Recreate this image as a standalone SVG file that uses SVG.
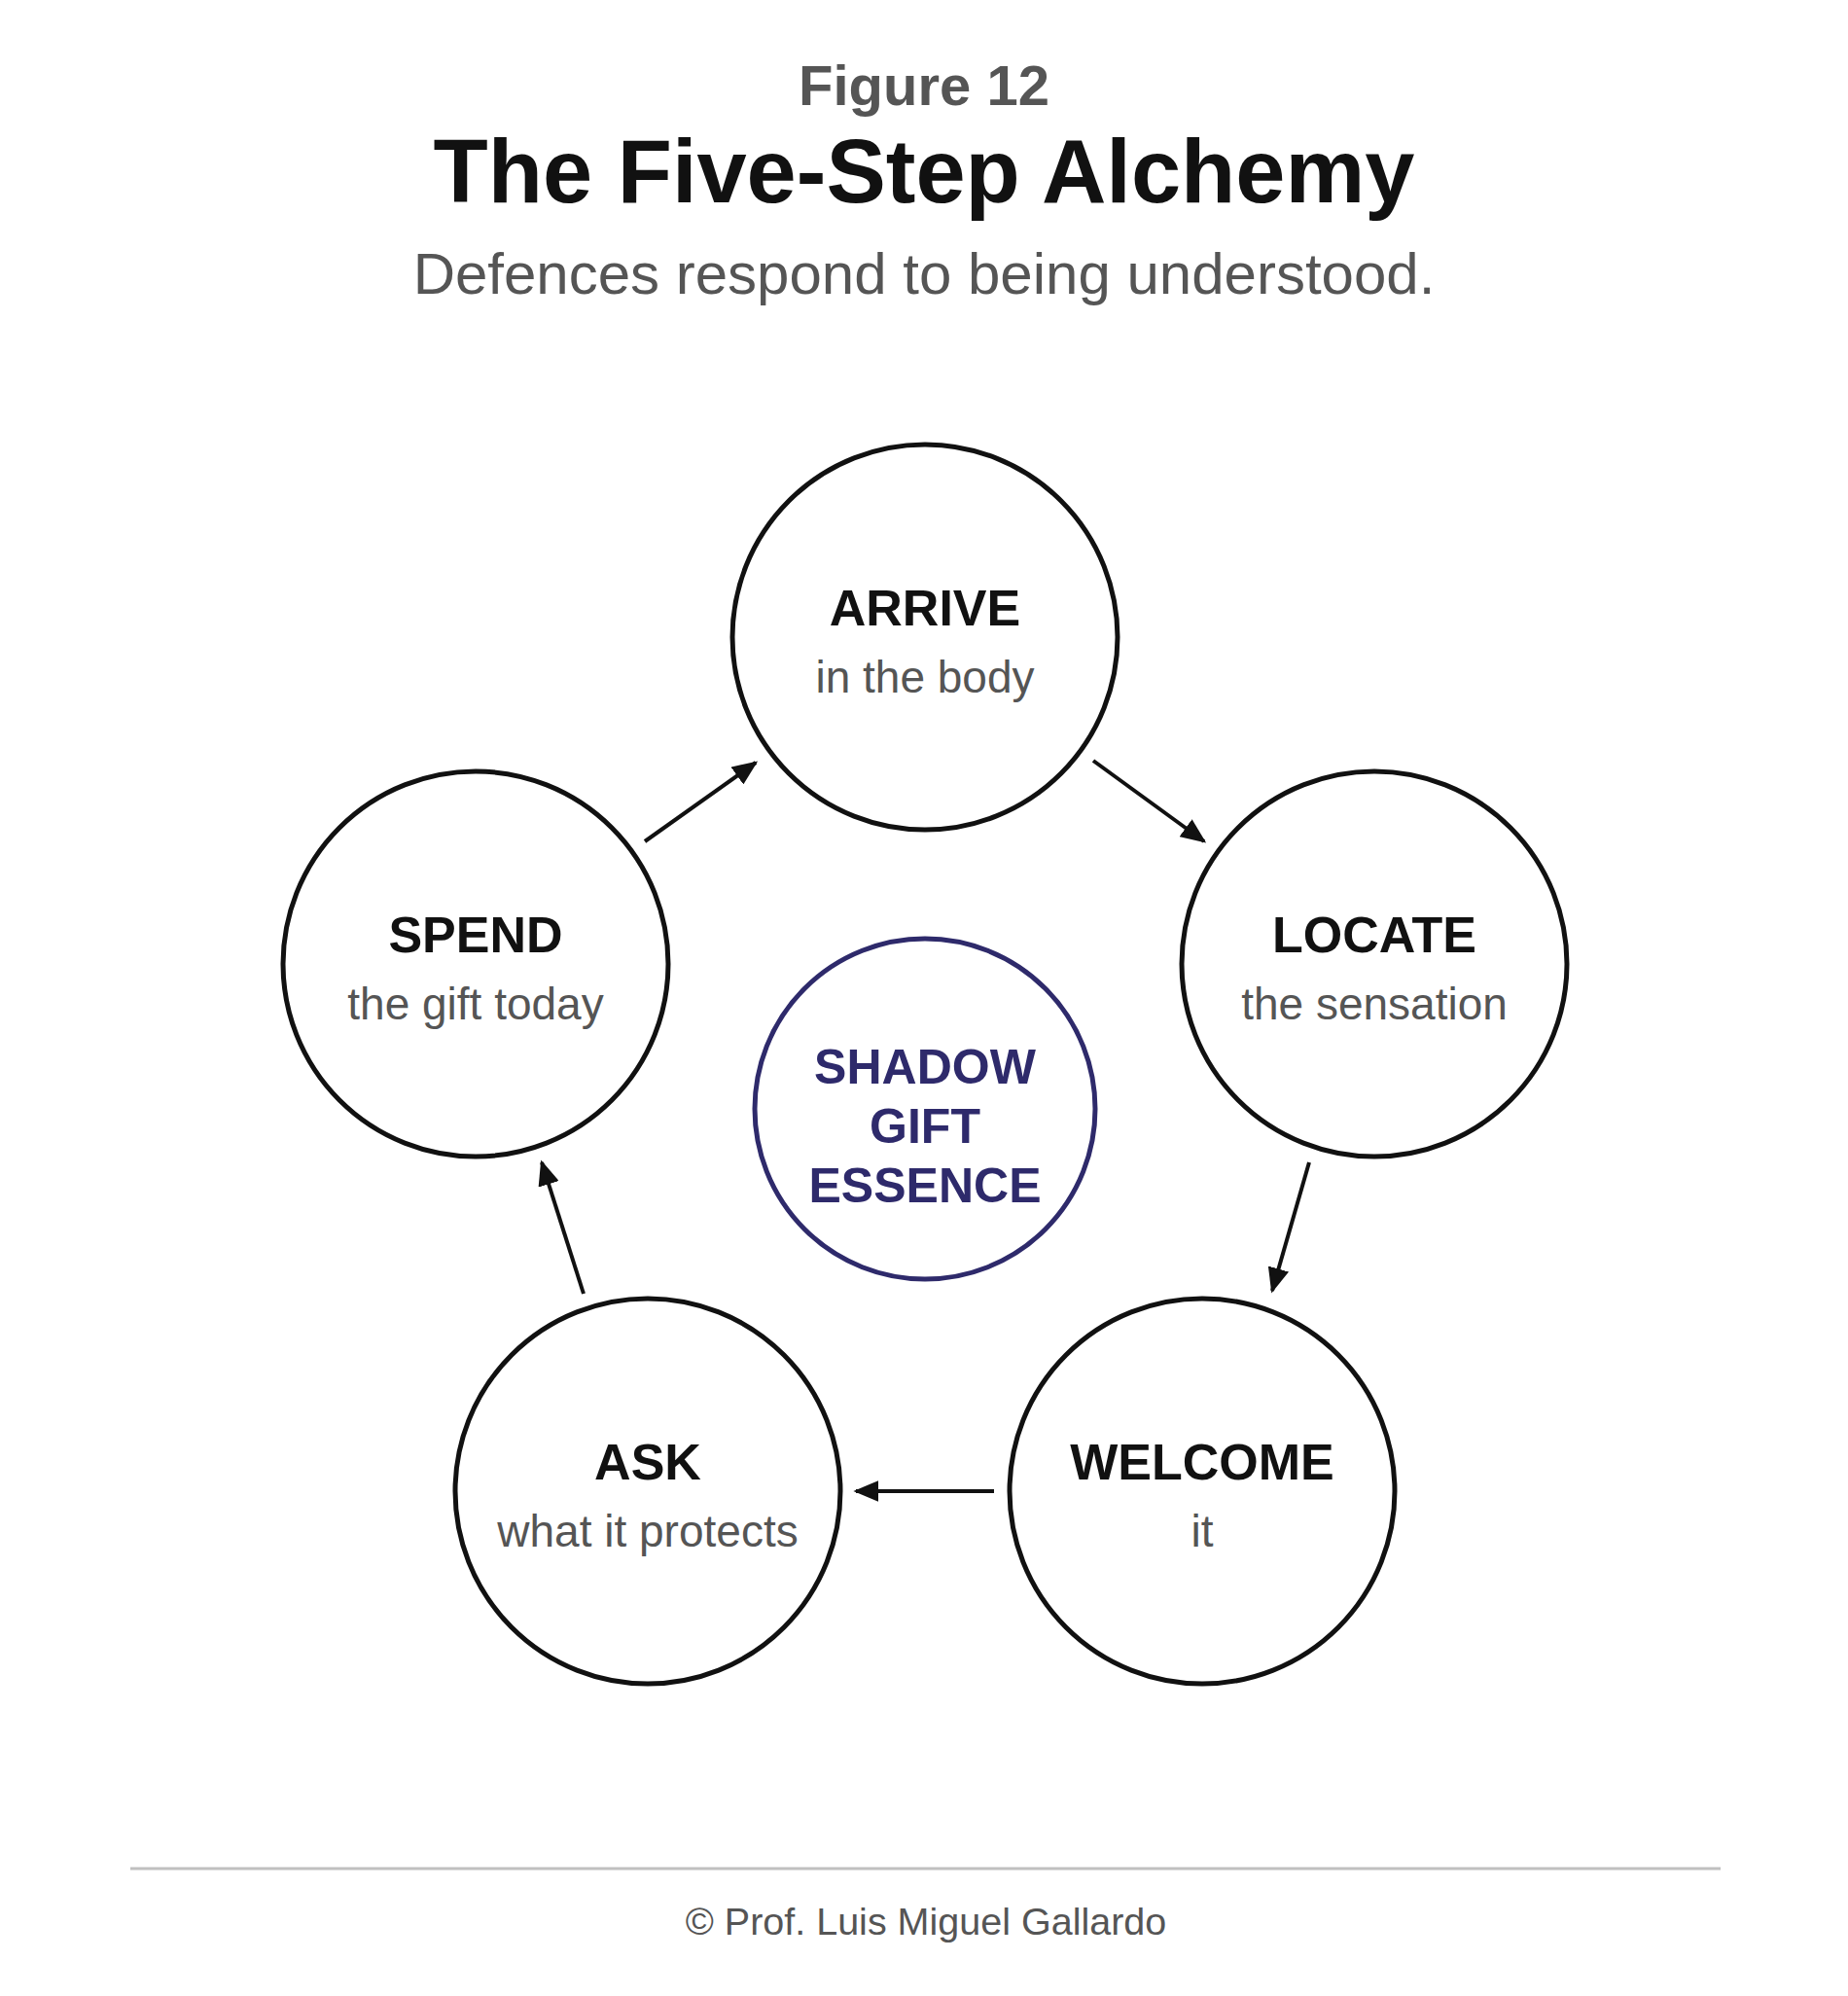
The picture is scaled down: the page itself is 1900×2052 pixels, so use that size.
<svg xmlns="http://www.w3.org/2000/svg" width="1900" height="2052" viewBox="0 0 1900 2052">
<style>
text{font-family:"Liberation Sans",Arial,sans-serif;text-anchor:middle}
.step{fill:#fff;stroke:#111;stroke-width:5}
.t{font-weight:bold;font-size:52px;fill:#111}
.s{font-size:46px;fill:#555}
.c{font-weight:bold;font-size:50px;fill:#2e2a6b}
.a{stroke:#111;stroke-width:4;fill:none;marker-end:url(#ah)}
</style>
<defs><marker id="ah" viewBox="0 0 10 10" refX="9" refY="5" markerWidth="26" markerHeight="22" markerUnits="userSpaceOnUse" orient="auto" preserveAspectRatio="none"><path d="M0,0L10,5L0,10z" fill="#111"/></marker></defs>
<rect width="1900" height="2052" fill="#fff"/>
<text x="950" y="108" font-size="58" font-weight="bold" fill="#555">Figure 12</text>
<text x="950" y="208" font-size="92" font-weight="bold" fill="#111">The Five-Step Alchemy</text>
<text x="950" y="302" font-size="60" fill="#555">Defences respond to being understood.</text>
<g id="arrive"><circle class="step" cx="951" cy="655" r="198"/><text class="t" x="951" y="643">ARRIVE</text><text class="s" x="951" y="712">in the body</text></g>
<g id="locate"><circle class="step" cx="1413" cy="991" r="198"/><text class="t" x="1413" y="979">LOCATE</text><text class="s" x="1413" y="1048">the sensation</text></g>
<g id="welcome"><circle class="step" cx="1236" cy="1533" r="198"/><text class="t" x="1236" y="1521">WELCOME</text><text class="s" x="1236" y="1590">it</text></g>
<g id="ask"><circle class="step" cx="666" cy="1533" r="198"/><text class="t" x="666" y="1521">ASK</text><text class="s" x="666" y="1590">what it protects</text></g>
<g id="spend"><circle class="step" cx="489" cy="991" r="198"/><text class="t" x="489" y="979">SPEND</text><text class="s" x="489" y="1048">the gift today</text></g>
<g id="center"><circle cx="951" cy="1140" r="175" fill="#fff" stroke="#2e2a6b" stroke-width="5"/><text class="c" x="951" y="1114">SHADOW</text><text class="c" x="951" y="1175">GIFT</text><text class="c" x="951" y="1236">ESSENCE</text></g>
<g id="connectors">
<line class="a" x1="1124" y1="782" x2="1238" y2="865"/>
<line class="a" x1="1346" y1="1195" x2="1308" y2="1327"/>
<line class="a" x1="1022" y1="1533" x2="880" y2="1533"/>
<line class="a" x1="600" y1="1330" x2="557" y2="1195"/>
<line class="a" x1="663" y1="865" x2="777" y2="784"/>
</g>
<line x1="134" y1="1921" x2="1769" y2="1921" stroke="#c0c0c0" stroke-width="3"/>
<text x="952" y="1989" font-size="39.5" fill="#555">© Prof. Luis Miguel Gallardo</text>
</svg>
